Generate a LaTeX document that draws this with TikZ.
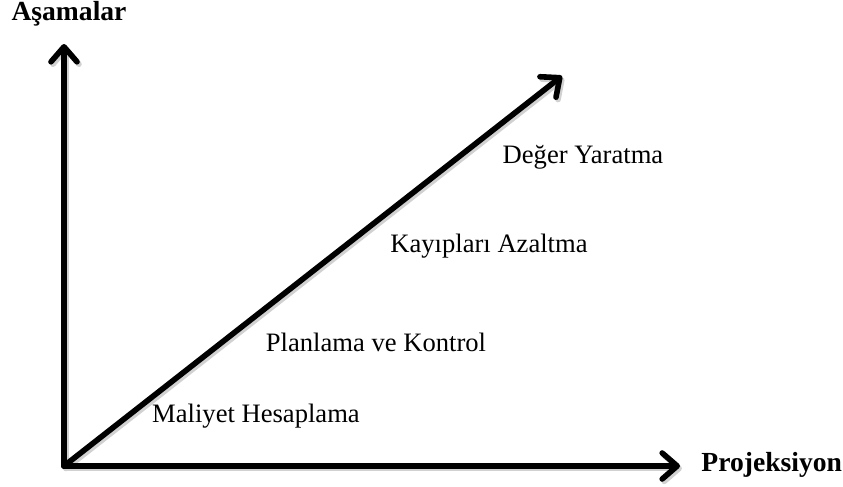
\documentclass[tikz,border=0pt]{standalone}
\usepackage{fontspec}
\setmainfont{Liberation Serif}
\usetikzlibrary{positioning, arrows.meta}

\begin{document}
\begin{tikzpicture}[
  x=0.5pt, y=-0.5pt,
  axis/.style={line width=2.8pt, line cap=round, line join=round,
               -{Straight Barb[length=7.5pt, width=13pt, line cap=round, line join=round]}},
  shadow/.style={axis, draw=black!18, transform canvas={shift={(1pt,-1.2pt)}}},
  axislbl/.style={font=\fontsize{13.8}{16}\selectfont\bfseries, inner sep=1pt},
  stage/.style={font=\fontsize{13.3}{16}\selectfont, inner sep=1pt},
]
\useasboundingbox (0,0) rectangle (843,487);

% Axes
\coordinate (O) at (64,466);
\coordinate (Y) at (64,44);
\coordinate (X) at (680,466);
\coordinate (D) at (562,76);

% shadow
\draw[shadow] (O) -- (Y);
\draw[shadow] (O) -- (X);
\draw[shadow] (O) -- (D);

\draw[axis] (O) -- (Y);
\draw[axis] (O) -- (X);
\draw[axis] (O) -- (D);

% Axis labels
\node[axislbl] (yl) at (69,14) {Aşamalar};
\node[axislbl, anchor=west] (xl) at (699,465) {Projeksiyon};

% Stages
\node[stage] (s1) at (256,416) {Maliyet Hesaplama};
\node[stage] (s2) at (376,342) {Planlama ve Kontrol};
\node[stage] (s3) at (489,246) {Kayıpları Azaltma};
\node[stage] (s4) at (583,157) {Değer Yaratma};

\end{tikzpicture}
\end{document}
